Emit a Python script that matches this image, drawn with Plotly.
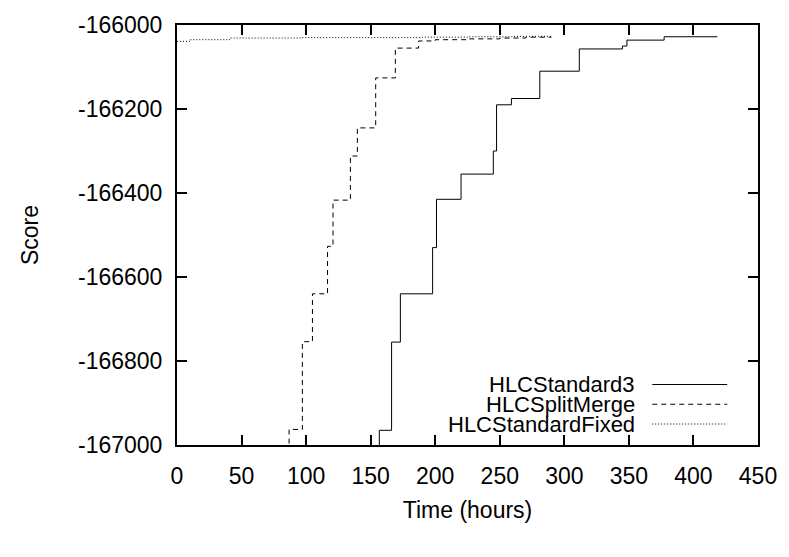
import plotly.graph_objects as go

# ---- data ----
std3_t = [140, 156.7, 166.2, 173, 198, 201, 220, 245, 247.5, 259, 281, 311.6, 345, 348.5, 377.3, 418.5]
std3_s = [-167200, -166965, -166755, -166640, -166530, -166415, -166355, -166300, -166190, -166175,
          -166110, -166057, -166050, -166036, -166028, -166028]

split_t = [60, 86.8, 97.1, 104.9, 116.6, 120.8, 134.3, 139.7, 153.9, 169.1, 187.1, 200, 225, 250, 270, 290]
split_s = [-167300, -166963, -166754, -166640, -166527, -166417, -166312, -166245, -166126, -166055,
           -166038, -166035, -166033, -166031, -166029, -166029]

fixed_t = [0, 9.6, 40.8, 96, 130, 190, 225, 260, 290]
fixed_s = [-166039, -166035, -166031, -166030, -166030, -166029, -166028, -166027, -166027]

series_names = ["HLCStandard3", "HLCSplitMerge", "HLCStandardFixed"]
x_ticks = [0, 50, 100, 150, 200, 250, 300, 350, 400, 450]
y_ticks = [-167000, -166800, -166600, -166400, -166200, -166000]
y_tick_text = ["-167000", "-166800", "-166600", "-166400", "-166200", "-166000"]

FONT = "Liberation Sans, Arial, Helvetica, sans-serif"
FS = 23
LEG_FS = 22
dashes = ["solid", "5px,4px", "1px,2px"]

fig = go.Figure()
for name, xs, ys, d in zip(series_names, [std3_t, split_t, fixed_t], [std3_s, split_s, fixed_s], dashes):
    fig.add_trace(go.Scatter(x=xs, y=ys, mode="lines", name=name, line_shape="hv",
                             line=dict(color="black", width=1, dash=d), showlegend=False))

# legend, gnuplot style: right-aligned text with the line sample to its right
leg_y = [0.144, 0.097, 0.050]
for name, d, yy in zip(series_names, dashes, leg_y):
    fig.add_annotation(x=0.790, y=yy, xref="paper", yref="paper", text=name, showarrow=False,
                       xanchor="right", yanchor="middle", borderpad=0,
                       font=dict(family=FONT, size=LEG_FS, color="black"))
    fig.add_shape(type="line", xref="paper", yref="paper", x0=0.818, x1=0.947, y0=yy, y1=yy,
                  line=dict(color="black", width=1, dash=d))

axis_common = dict(showline=True, linecolor="black", linewidth=2, mirror="ticks", ticks="inside",
                   ticklen=10, tickwidth=1.5, tickcolor="black", showgrid=False, zeroline=False,
                   tickfont=dict(family=FONT, size=FS, color="black"))

fig.update_xaxes(range=[0, 450], tickvals=x_ticks, ticklabelstandoff=9,
                 title=dict(text="Time (hours)", font=dict(family=FONT, size=FS, color="black"), standoff=14),
                 **axis_common)
fig.update_yaxes(range=[-167000, -166000], tickvals=y_ticks, ticktext=y_tick_text, ticklabelstandoff=8,
                 title=dict(text="Score", font=dict(family=FONT, size=FS, color="black"), standoff=33),
                 **axis_common)

fig.update_layout(width=789, height=557, margin=dict(l=177, r=30, t=18, b=112),
                  paper_bgcolor="white", plot_bgcolor="white", showlegend=False)

fig.write_html("out.html")
